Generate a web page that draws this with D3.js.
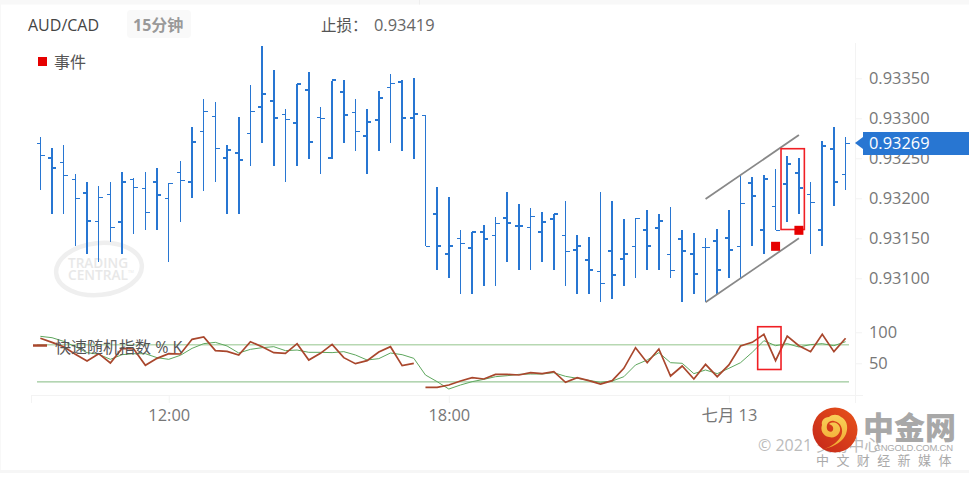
<!DOCTYPE html>
<html>
<head>
<meta charset="utf-8">
<script src="https://cdn.jsdelivr.net/npm/d3@7/dist/d3.min.js"></script>
<style>
html,body{margin:0;padding:0;background:#fff;overflow:hidden}
text{font-family:"Open Sans","Noto Sans CJK SC",sans-serif}
.axis path,.axis line{stroke:#f3f3f3;fill:none}
.axis text{fill:#777;font-size:16.4px}
</style>
</head>
<body>
<svg id="chart" width="969" height="479"></svg>
<script>
const barCount = 70;
const firstBar = new Date(2021, 6, 12, 9, 15);
const open = [93269,93251,93245,93224,93207,93171,93205,93170,93224,93212,93220,93200,93232,93220,93283,93302,93251,93257,93281,93314,93322,93305,93294,93335,93301,93250,93333,93307,93278,93298,93339,93345,93300,93303,93180,93130,93150,93138,93158,93153,93175,93166,93164,93158,93174,93153,93135,93123,93108,93134,93124,93140,93161,93163,93130,93149,93131,93138,93147,93151,93140,93219,93160,93190,93218,93232,93205,93160,93262,93230];
const high = [93277,93263,93267,93230,93220,93215,93220,93233,93225,93233,93238,93219,93247,93289,93324,93320,93267,93302,93342,93390,93360,93312,93343,93358,93314,93347,93348,93324,93312,93334,93355,93348,93350,93303,93214,93202,93160,93158,93167,93177,93208,93193,93188,93183,93180,93197,93154,93152,93208,93197,93174,93175,93185,93180,93189,93160,93157,93150,93162,93185,93228,93227,93229,93237,93253,93250,93220,93272,93289,93277];
const low = [93210,93180,93180,93140,93130,93120,93145,93130,93155,93160,93160,93120,93170,93200,93209,93220,93180,93180,93240,93269,93240,93220,93240,93249,93230,93249,93269,93259,93230,93259,93269,93259,93249,93140,93110,93100,93080,93080,93090,93090,93120,93110,93110,93120,93110,93090,93080,93080,93070,93074,93090,93100,93110,93110,93100,93070,93080,93070,93080,93100,93100,93140,93130,93160,93170,93180,93130,93140,93190,93210];
const close = [93254,93238,93229,93200,93172,93201,93164,93221,93214,93182,93204,93219,93222,93270,93308,93262,93260,93248,93309,93330,93301,93299,93343,93270,93300,93348,93304,93284,93295,93325,93343,93300,93305,93140,93140,93140,93143,93158,93149,93169,93169,93165,93177,93171,93181,93133,93140,93111,93094,93104,93130,93175,93140,93172,93110,93134,93105,93138,93110,93136,93193,93203,93224,93160,93243,93213,93195,93265,93220,93269];
const stochK = [90.3,83.8,76.8,64.5,53.7,65.5,50.5,74.1,73.1,46.7,58,65.5,65,88.7,92.4,70.4,69.3,63.4,84.9,76.8,67.2,66.1,81.7,55.3,66.1,80.6,59.1,49.4,54.2,68.2,76.8,46.2,49.9,11.2,11.2,15,21.4,26.8,24.7,32.2,32.2,31.1,34.9,33.3,36.5,19.3,26.8,22,16.6,22,41.9,75.2,51,73.1,29.5,45.6,24.7,48.3,28.4,47.3,77.9,83.8,96.7,54.2,94,78.4,68.8,96.7,68.8,90.3];
const stochD = [93.5,91.3,85.4,76.8,67.2,64.5,56.4,63.9,65.5,65.5,59.1,56.4,62.9,74.1,81.7,83.8,77.9,66.6,72.5,75.2,76.8,70.4,71.4,67.7,67.7,67.2,68.8,63.4,55.3,57.5,66.6,63.9,58,31.1,20.4,8.5,15,20.4,24.1,28.4,30,32.2,32.7,32.7,34.9,29,25.8,22.5,19.3,21.4,28.4,47.3,55.3,67.2,51,50,33.3,39.2,33.3,41.9,51,67.7,86.5,78.4,81.7,76.3,80.1,81.7,78.4,84.9];
const kBreakIndex = 33;
const priceTicks = [93100,93150,93200,93250,93300,93350];
const stochTicks = [50,100];
const stochLevels = [20,80];
const eventBars = [63,65];
const eventPrices = [93140,93160];
const upperTrendBars = [57,65];
const upperTrendPrices = [93199,93279];
const lowerTrendBars = [57,65];
const lowerTrendPrices = [93070,93150];
const priceBoxBars = [63.5,65.5];
const priceBoxPrices = [93262,93161];
const stochBoxBars = [61.5,63.5];
const stochBoxValues = [109,40];
const lastPriceLabel = "0.93269";
const timeTickLabels = [[new Date(2021,6,12,12,0),"12:00"],[new Date(2021,6,12,18,0),"18:00"],[new Date(2021,6,13,0,0),"七月 13"]];

const BLUE = "#2876d2", RED = "#e60000";
const barTime = i => d3.timeMinute.offset(firstBar, 15 * i);
const svg = d3.select("#chart");

const x = d3.scaleTime().domain([barTime(0), barTime(barCount - 1)]).range([40.36, 40.36 + 69 * 11.67]);
const y = d3.scaleLinear().domain([93100, 93350]).range([278.3, 78.3]);
const ys = d3.scaleLinear().domain([0, 100]).range([394.3, 332.3]);
const xb = i => x(barTime(i));

// page edges
svg.append("rect").attr("width",969).attr("height",4.5).attr("fill","#f8f8f8");
svg.append("rect").attr("width",1).attr("height",471).attr("fill","#f8f8f8");
svg.append("rect").attr("y",470).attr("width",969).attr("height",3).attr("fill","#f6f6f6");
svg.append("rect").attr("x",419).attr("width",1).attr("height",4.5).attr("fill","#eeeeee");

// header
svg.append("text").attr("x",28).attr("y",31).attr("font-size",16).attr("fill","#444").text("AUD/CAD");
svg.append("rect").attr("x",127).attr("y",10).attr("width",64).attr("height",28).attr("rx",4).attr("fill","#f9f9f9");
svg.append("text").attr("x",133).attr("y",31).attr("font-size",16).attr("font-weight",700).attr("fill","#999").text("15分钟");
svg.append("text").attr("x",321).attr("y",31).attr("font-size",15.5).attr("fill","#555").text("止损：");
svg.append("text").attr("x",374).attr("y",31).attr("font-size",16.4).attr("fill","#666").text("0.93419");

// legend
svg.append("rect").attr("x",38).attr("y",57).attr("width",9).attr("height",9).attr("fill",RED);
svg.append("text").attr("x",54).attr("y",68).attr("font-size",16).attr("fill","#555").text("事件");

// watermark
const wm = svg.append("g");
wm.append("ellipse").attr("cx",99).attr("cy",269).attr("rx",43).attr("ry",26).attr("fill","none").attr("stroke","#efefef").attr("stroke-width",4.5).attr("transform","rotate(-6 99 269)");
wm.append("text").attr("x",68).attr("y",268).attr("textLength",60).attr("lengthAdjust","spacingAndGlyphs").attr("font-size",13.5).attr("font-weight",600).attr("fill","#e8e8e8").text("TRADING");
wm.append("text").attr("x",68).attr("y",280).attr("textLength",60).attr("lengthAdjust","spacingAndGlyphs").attr("font-size",13.5).attr("font-weight",600).attr("fill","#e8e8e8").text("CENTRAL");
wm.append("text").attr("x",128).attr("y",273).attr("font-size",4).attr("fill","#e8e8e8").text("TM");

// axes
const yAxis = d3.axisRight(y).tickValues(priceTicks).tickSize(7).tickPadding(7).tickFormat(d => (d / 100000).toFixed(5));
svg.append("g").attr("class","axis").attr("transform","translate(855,0)").call(yAxis).call(g => g.select(".domain").remove());
const sAxis = d3.axisRight(ys).tickValues(stochTicks).tickSize(7).tickPadding(7);
svg.append("g").attr("class","axis").attr("transform","translate(855,0)").call(sAxis).call(g => g.select(".domain").remove());
svg.append("line").attr("x1",855.5).attr("x2",855.5).attr("y1",43).attr("y2",403).attr("stroke","#f3f3f3");
const xAxis = d3.axisBottom(x).tickValues(timeTickLabels.map(d => d[0])).tickSize(8).tickPadding(6)
  .tickFormat(d => timeTickLabels.find(t => +t[0] === +d)[1]);
svg.append("g").attr("class","axis").attr("transform","translate(0,395)").call(xAxis).call(g => g.select(".domain").remove());
svg.append("line").attr("x1",31).attr("x2",863).attr("y1",395.5).attr("y2",395.5).attr("stroke","#f3f3f3");
svg.append("line").attr("x1",31.5).attr("x2",31.5).attr("y1",395).attr("y2",403).attr("stroke","#f3f3f3");

// OHLC bars
const bars = svg.append("g").selectAll("g").data(d3.range(barCount)).join("g").each(function(i) {
  const g = d3.select(this), cx = xb(i);
  const thick = Math.abs(cx - Math.round(cx)) <= 0.25;
  const px = thick ? Math.round(cx) : Math.floor(cx) + 0.5;
  const w = thick ? 2 : 1;
  const snap = v => thick ? Math.round(y(v)) : Math.floor(y(v)) + 0.5;
  g.append("line").attr("x1",px).attr("x2",px).attr("y1",y(high[i])).attr("y2",y(low[i])).attr("stroke",BLUE).attr("stroke-width",w).attr("shape-rendering","crispEdges");
  g.append("line").attr("x1",px - 4).attr("x2",px).attr("y1",snap(open[i])).attr("y2",snap(open[i])).attr("stroke",BLUE).attr("stroke-width",w).attr("shape-rendering","crispEdges");
  g.append("line").attr("x1",px).attr("x2",px + 4).attr("y1",snap(close[i])).attr("y2",snap(close[i])).attr("stroke",BLUE).attr("stroke-width",w).attr("shape-rendering","crispEdges");
});

// trend channel
const trend = d3.line().x(d => xb(d[0])).y(d => y(d[1]));
[[upperTrendBars,upperTrendPrices],[lowerTrendBars,lowerTrendPrices]].forEach(([b,p]) => {
  svg.append("path").attr("d",trend(d3.zip(b,p))).attr("fill","none").attr("stroke","#888").attr("stroke-width",1.8);
});

// pattern boxes
const box = (xs, yv, sc) => svg.append("rect")
  .attr("x",xb(xs[0])).attr("y",sc(yv[0])).attr("width",xb(xs[1]) - xb(xs[0])).attr("height",sc(yv[1]) - sc(yv[0]))
  .attr("fill","none").attr("stroke","#f01f24").attr("stroke-width",1.6);
box(priceBoxBars, priceBoxPrices, y);

// event markers
svg.append("g").selectAll("rect").data(eventBars).join("rect")
  .attr("x",(d) => xb(d) - 4.5).attr("y",(d,i) => y(eventPrices[i]) - 4.5).attr("width",9).attr("height",9).attr("fill",RED);

// stochastic levels
svg.append("line").attr("x1",37).attr("x2",849).attr("y1",ys(80)).attr("y2",ys(80)).attr("stroke","#b7d8b2").attr("stroke-width",1.6);
svg.append("line").attr("x1",37).attr("x2",849).attr("y1",ys(20)).attr("y2",ys(20)).attr("stroke","#82bb80").attr("stroke-width",1);

const sLine = d3.line().x(d => xb(d[0])).y(d => ys(d[1]));
svg.append("path").attr("d",sLine(stochD.map((v,i) => [i,v]))).attr("fill","none").attr("stroke","#5ea75e").attr("stroke-width",1);
const kPts = stochK.map((v,i) => [i,v]);
[kPts.slice(0,kBreakIndex),kPts.slice(kBreakIndex)].forEach(seg => {
  svg.append("path").attr("d",sLine(seg)).attr("fill","none").attr("stroke","#a9472d").attr("stroke-width",1.7);
});
svg.append("line").attr("x1",33).attr("x2",47).attr("y1",345.5).attr("y2",345.5).attr("stroke","#a9472d").attr("stroke-width",2.5);
svg.append("text").attr("x",55).attr("y",353).attr("font-size",16).attr("fill","#555").text("快速随机指数 % K");
box(stochBoxBars, stochBoxValues, ys);

// last price tag
svg.append("rect").attr("x",863).attr("y",132).attr("width",106).attr("height",23).attr("fill",BLUE);
svg.append("path").attr("d",d3.line()([[863,137],[855,143],[863,149]])).attr("fill",BLUE);
svg.append("text").attr("x",869).attr("y",149).attr("font-size",16.4).attr("fill","#fff").attr("font-weight",500).text(lastPriceLabel);

// copyright + publisher logo
svg.append("text").attr("x",758).attr("y",451).attr("font-size",16).attr("fill","#bbb").text("© 2021 交易中心");
const defs = svg.append("defs");
const grad = defs.append("linearGradient").attr("id","logoG").attr("x1",0).attr("y1",1).attr("x2",1).attr("y2",0);
grad.append("stop").attr("offset",0).attr("stop-color","#c4261a");
grad.append("stop").attr("offset",1).attr("stop-color","#e8531a");
svg.append("circle").attr("cx",835).attr("cy",430).attr("r",22.5).attr("fill","url(#logoG)");
const gy = defs.append("linearGradient").attr("id","logoY").attr("x1",0).attr("y1",0).attr("x2",0).attr("y2",1);
gy.append("stop").attr("offset",0).attr("stop-color","#f8d25a");
gy.append("stop").attr("offset",1).attr("stop-color","#f2a52e");
// cloud with tail
svg.append("path").attr("d","M824 449C836 446 843 441 846 434C849 426 846 419 841 417C838 414 832 414 829 417C824 417 821 421 822 425C820 430 823 436 829 437C836 439 841 433 840 428C839 423 833 421 829 424C832 425 834 427 833 430C832 433 828 432 827 429C826 424 829 420 834 421C841 422 844 430 841 436C838 442 831 447 824 449Z").attr("fill","url(#logoY)");
svg.append("text").attr("x",863).attr("y",439).attr("font-size",31).attr("font-weight",900).attr("fill","#a8a8a8").attr("style","font-family:'Noto Sans CJK SC'").text("中金网");
svg.append("text").attr("x",874).attr("y",451).attr("font-size",9.5).attr("fill","#aaa").attr("textLength",79).attr("style","font-family:'Liberation Sans'").text("CNGOLD.COM.CN");
svg.append("text").attr("x",816).attr("y",465).attr("font-size",13).attr("fill","#aaa").attr("letter-spacing",7.4).text("中文财经新媒体");
</script>
</body>
</html>
